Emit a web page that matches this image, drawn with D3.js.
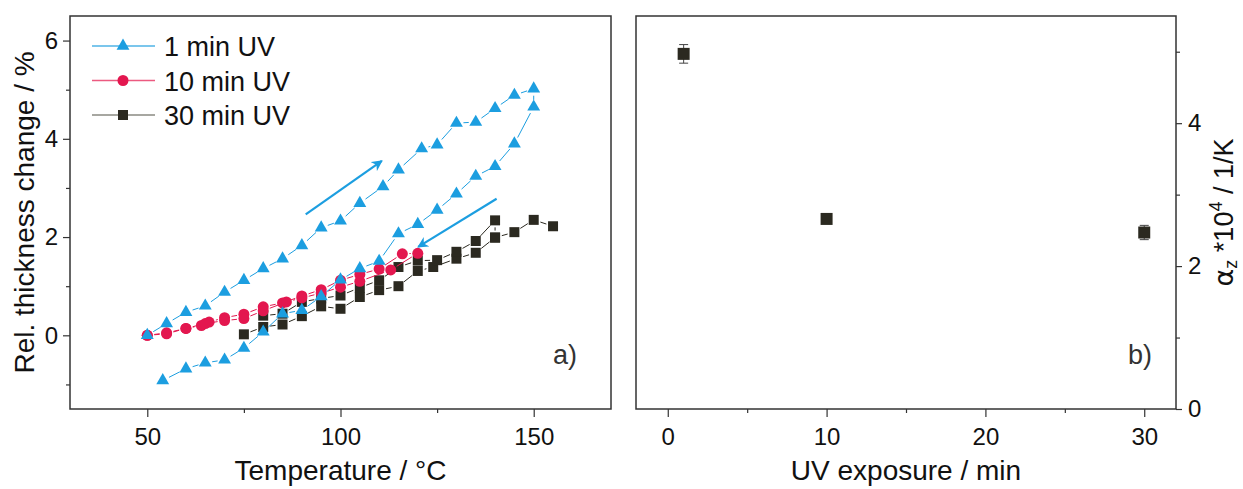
<!DOCTYPE html>
<html>
<head>
<meta charset="utf-8">
<script src="https://cdn.jsdelivr.net/npm/d3@7"></script>
<style>
  body { margin: 0; background: #fff; }
  svg { font-family: "Liberation Sans", Arial, sans-serif; }
  .tick text { fill: #111; }
</style>
</head>
<body>
<div id="chart"></div>
<script>
// data: [temperature, rel. thickness change] in measurement order
var uv1 = [[50,0.0],[55,0.24],[60,0.47],[65,0.60],[70,0.88],[75,1.12],[80,1.36],[85,1.56],[90,1.83],[95,2.19],
    [100,2.33],[105,2.69],[111,3.03],[115,3.37],[121,3.80],[125,3.88],[130,4.32],[135,4.34],[140,4.62],[145,4.89],
    [150,5.02],[150,4.65],[145,3.90],[140,3.44],[135,3.24],[130,2.88],[125,2.55],[120,2.26],[115,2.07],[110,1.51],
    [105,1.36],[100,1.13],[95,0.79],[90,0.51],[85,0.44],[80,0.07],[75,-0.26],[70,-0.50],[65,-0.56],[60,-0.68],[54,-0.92]];
var uv10 = [[50,0.0],[55,0.05],[60,0.14],[64,0.20],[66,0.27],[70,0.36],[75,0.43],[80,0.58],[85,0.66],[90,0.80],
    [95,0.93],[100,1.12],[105,1.24],[110,1.35],[116,1.66],[120,1.67],[113,1.33],[105,1.10],[100,0.98],[95,0.86],
    [90,0.76],[86,0.68],[80,0.50],[75,0.34],[70,0.30],[65,0.24],[60,0.14],[55,0.03],[50,0.0]];
var uv30Heat = [[75,0.02],[80,0.17],[85,0.22],[90,0.39],[95,0.59],[100,0.54],[105,0.78],[110,0.92],[115,1.00],
    [120,1.31],[124,1.39],[130,1.56],[135,1.68],[140,1.99],[145,2.10],[150,2.35],[155,2.22]];
var uv30Cool = [[140,1.99],[140,2.34],[135,1.92],[130,1.70],[125,1.53],[120,1.52],[115,1.39],[110,1.12],
    [105,0.97],[100,0.81],[95,0.75],[90,0.68],[85,0.44],[80,0.40]];
// arrows [x1,y1,x2,y2] in data units
var arrows = [[91,2.46,110.7,3.55],[140.4,2.78,120.1,1.80]];

// panel b
var exposure = [1, 10, 30];
var alphaZ = [4.97, 2.66, 2.47];
var alphaErr = [0.13, 0.05, 0.10];

var legendNames = ["1 min UV", "10 min UV", "30 min UV"];
var xTicksA = [50, 100, 150], xMinorA = [75, 125];
var yTicksA = [0, 2, 4, 6], yMinorA = [-1, 1, 3, 5];
var xTicksB = [0, 10, 20, 30], xMinorB = [5, 15, 25];
var yTicksB = [0, 2, 4], yMinorB = [1, 3, 5];

var blue = "#1c9ee0", red = "#e3174f", dark = "#2b2920";

var svg = d3.select("#chart").append("svg")
    .attr("width", 1243).attr("height", 489);

// ---------- panel a ----------
var a = {left: 70, right: 611, top: 16, bottom: 409};
var x = d3.scaleLinear().domain([30, 170]).range([a.left, a.right]);
var y = d3.scaleLinear().domain([-1.5, 6.5]).range([a.bottom, a.top]);

function axisStyle(g) {
    g.select(".domain").remove();
    g.selectAll(".tick line").attr("stroke", "#333").attr("stroke-width", 1.2);
    g.selectAll(".tick text").style("font-size", "24px");
}

svg.append("g").attr("transform", "translate(0," + a.bottom + ")")
    .call(d3.axisBottom(x).tickValues(xTicksA).tickSize(8).tickPadding(11))
    .call(axisStyle);
svg.append("g").attr("transform", "translate(0," + a.bottom + ")")
    .call(d3.axisBottom(x).tickValues(xMinorA).tickSize(4).tickFormat(""))
    .call(axisStyle);
svg.append("g").attr("transform", "translate(" + a.left + ",0)")
    .call(d3.axisLeft(y).tickValues(yTicksA).tickSize(7).tickPadding(5))
    .call(axisStyle);
svg.append("g").attr("transform", "translate(" + a.left + ",0)")
    .call(d3.axisLeft(y).tickValues(yMinorA).tickSize(4).tickFormat(""))
    .call(axisStyle);

svg.append("rect")
    .attr("x", a.left).attr("y", a.top)
    .attr("width", a.right - a.left).attr("height", a.bottom - a.top)
    .attr("fill", "none").attr("stroke", "#333").attr("stroke-width", 1.5);

// lines with a small gap round each symbol (like Origin)
function gapLine(data, color, gap) {
    var segs = [];
    for (var i = 1; i < data.length; i++) {
        var x1 = x(data[i-1][0]), y1 = y(data[i-1][1]), x2 = x(data[i][0]), y2 = y(data[i][1]);
        var len = Math.hypot(x2 - x1, y2 - y1);
        if (len <= 2 * gap) continue;
        var ux = (x2 - x1) / len, uy = (y2 - y1) / len;
        segs.push([x1 + ux * gap, y1 + uy * gap, x2 - ux * gap, y2 - uy * gap]);
    }
    svg.append("g").selectAll("line").data(segs).enter().append("line")
        .attr("x1", d => d[0]).attr("y1", d => d[1])
        .attr("x2", d => d[2]).attr("y2", d => d[3])
        .attr("stroke", color).attr("stroke-width", 1);
}

function markers(data, symbol, size, color) {
    svg.append("g").selectAll("path").data(data).enter().append("path")
        .attr("d", d3.symbol().type(symbol).size(size))
        .attr("transform", d => "translate(" + x(d[0]) + "," + y(d[1]) + ")")
        .attr("fill", color);
}

gapLine(uv30Heat, dark, 7);
gapLine(uv30Cool, dark, 7);
markers(uv30Heat, d3.symbolSquare, 100, dark);
markers(uv30Cool, d3.symbolSquare, 100, dark);
gapLine(uv10, red, 7);
markers(uv10, d3.symbolCircle, 95, red);
gapLine(uv1, blue, 7);
markers(uv1, d3.symbolTriangle, 72, blue);

// arrows
svg.append("defs").append("marker")
    .attr("id", "head").attr("viewBox", "0 0 10 10")
    .attr("refX", 9).attr("refY", 5)
    .attr("markerWidth", 5).attr("markerHeight", 5)
    .attr("orient", "auto")
    .append("path").attr("d", "M0,0 L10,5 L0,10 L3,5 Z").attr("fill", blue);
svg.append("g").selectAll("line").data(arrows).enter().append("line")
    .attr("x1", d => x(d[0])).attr("y1", d => y(d[1]))
    .attr("x2", d => x(d[2])).attr("y2", d => y(d[3]))
    .attr("stroke", blue).attr("stroke-width", 2.2)
    .attr("marker-end", "url(#head)");

// legend
var legSyms = [d3.symbolTriangle, d3.symbolCircle, d3.symbolSquare];
var legSizes = [72, 95, 100];
var legCols = [blue, red, dark];
var legLineCols = ["#4fb3e6", "#ec5a80", "#8a8a82"];
var leg = svg.append("g").selectAll("g").data(legendNames).enter().append("g")
    .attr("transform", (d, i) => "translate(92," + (46 + i * 34.5) + ")");
leg.append("line").attr("x1", 0).attr("x2", 63).attr("y1", 0).attr("y2", 0)
    .attr("stroke", (d, i) => legLineCols[i]).attr("stroke-width", 1.3);
leg.append("path").attr("transform", "translate(31,0)")
    .attr("d", (d, i) => d3.symbol().type(legSyms[i]).size(legSizes[i])())
    .attr("fill", (d, i) => legCols[i]);
leg.append("text").attr("x", 72).attr("y", 10)
    .style("font-size", "27px").attr("fill", "#111").text(d => d);

svg.append("text").attr("x", 577).attr("y", 364).attr("text-anchor", "end")
    .style("font-size", "27px").attr("fill", "#333").text("a)");

svg.append("text").attr("x", (a.left + a.right) / 2).attr("y", 480)
    .attr("text-anchor", "middle").style("font-size", "28px").attr("fill", "#111")
    .text("Temperature / °C");
svg.append("text")
    .attr("transform", "translate(34," + (a.top + a.bottom) / 2 + ") rotate(-90)")
    .attr("text-anchor", "middle").style("font-size", "28px").attr("fill", "#111")
    .text("Rel. thickness change / %");

// ---------- panel b ----------
var b = {left: 636, right: 1176, top: 16, bottom: 409};
var xb = d3.scaleLinear().domain([-2, 32]).range([b.left, b.right]);
var yb = d3.scaleLinear().domain([0, 5.5]).range([b.bottom, b.top]);

svg.append("g").attr("transform", "translate(0," + b.bottom + ")")
    .call(d3.axisBottom(xb).tickValues(xTicksB).tickSize(8).tickPadding(11))
    .call(axisStyle);
svg.append("g").attr("transform", "translate(0," + b.bottom + ")")
    .call(d3.axisBottom(xb).tickValues(xMinorB).tickSize(4).tickFormat(""))
    .call(axisStyle);
svg.append("g").attr("transform", "translate(" + b.right + ",0)")
    .call(d3.axisRight(yb).tickValues(yTicksB).tickSize(6).tickPadding(6).tickFormat(d3.format("d")))
    .call(axisStyle);
svg.append("g").attr("transform", "translate(" + b.right + ",0)")
    .call(d3.axisRight(yb).tickValues(yMinorB).tickSize(4).tickFormat(""))
    .call(axisStyle);

svg.append("rect")
    .attr("x", b.left).attr("y", b.top)
    .attr("width", b.right - b.left).attr("height", b.bottom - b.top)
    .attr("fill", "none").attr("stroke", "#333").attr("stroke-width", 1.5);

var pts = exposure.map((d, i) => ({x: d, y: alphaZ[i], e: alphaErr[i]}));
var eb = svg.append("g").selectAll("g").data(pts).enter().append("g");
eb.append("line")
    .attr("x1", d => xb(d.x)).attr("x2", d => xb(d.x))
    .attr("y1", d => yb(d.y - d.e)).attr("y2", d => yb(d.y + d.e))
    .attr("stroke", "#444").attr("stroke-width", 1);
eb.selectAll(".cap").data(d => [[d.x, d.y - d.e], [d.x, d.y + d.e]]).enter().append("line")
    .attr("x1", d => xb(d[0]) - 4.5).attr("x2", d => xb(d[0]) + 4.5)
    .attr("y1", d => yb(d[1])).attr("y2", d => yb(d[1]))
    .attr("stroke", "#444").attr("stroke-width", 1);
eb.append("path")
    .attr("d", d3.symbol().type(d3.symbolSquare).size(144))
    .attr("transform", d => "translate(" + xb(d.x) + "," + yb(d.y) + ")")
    .attr("fill", dark);

svg.append("text").attr("x", 1152).attr("y", 364).attr("text-anchor", "end")
    .style("font-size", "27px").attr("fill", "#333").text("b)");

svg.append("text").attr("x", (b.left + b.right) / 2).attr("y", 480)
    .attr("text-anchor", "middle").style("font-size", "28px").attr("fill", "#111")
    .text("UV exposure / min");

var yl = svg.append("text")
    .attr("transform", "translate(1233," + (b.top + b.bottom) / 2 + ") rotate(-90)")
    .attr("text-anchor", "middle").style("font-size", "27px").attr("fill", "#111");
yl.append("tspan").style("font-family", "'DejaVu Sans', sans-serif").text("α");
yl.append("tspan").attr("dy", 4).style("font-size", "18px").text("z");
yl.append("tspan").attr("dy", -4).text(" *10");
yl.append("tspan").attr("dy", -11).style("font-size", "18px").text("4");
yl.append("tspan").attr("dy", 11).text(" / 1/K");
</script>
</body>
</html>
